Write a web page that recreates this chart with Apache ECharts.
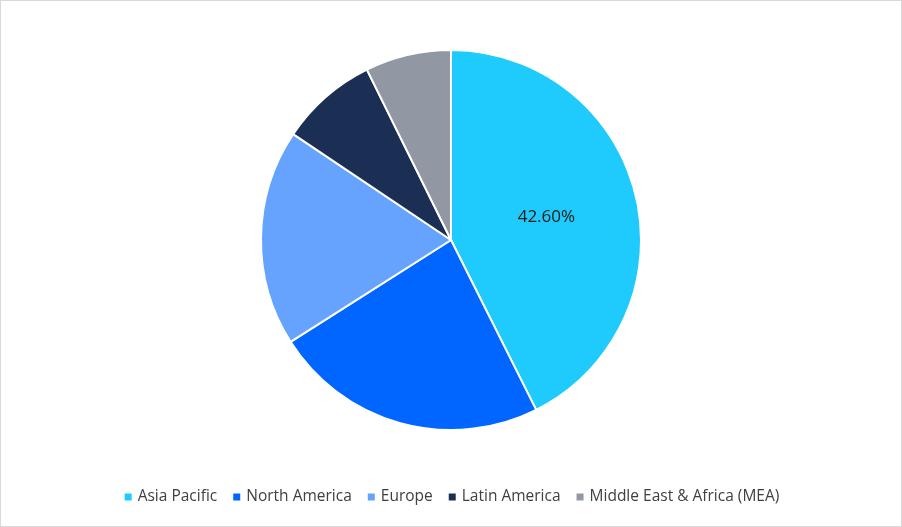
<!DOCTYPE html>
<html>
<head>
<meta charset="utf-8">
<script src="https://cdn.jsdelivr.net/npm/echarts@6/dist/echarts.min.js"></script>
<style>
html,body{margin:0;padding:0;background:#fff;}
#main{width:900px;height:525px;border:1px solid #d9d9d9;}
</style>
</head>
<body>
<div id="main"></div>
<script>
var regions = ['Asia Pacific', 'North America', 'Europe', 'Latin America', 'Middle East & Africa (MEA)'];
var shares = [42.6, 23.4, 18.4, 8.3, 7.3];
var colors = ['#1ECBFC', '#0066FF', '#66A3FF', '#1B2F55', '#9197A3'];

var chart = echarts.init(document.getElementById('main'));
var data = regions.map(function (name, i) {
	var item = { name: name, value: shares[i], itemStyle: { color: colors[i] } };
	if (i === 0) item.label = { show: true };
	return item;
});
chart.setOption({
	animation: false,
	legend: {
		bottom: 16,
		itemWidth: 9,
		itemHeight: 9,
		itemGap: 14,
		icon: 'rect',
		textStyle: { fontFamily: 'Open Sans', fontSize: 15.5, color: '#404040' },
		data: regions
	},
	series: [{
		type: 'pie',
		center: [450, 239],
		radius: [0, 190],
		startAngle: 90,
		clockwise: true,
		itemStyle: { borderColor: '#fff', borderWidth: 2 },
		label: {
			show: false,
			position: 'inner',
			formatter: function (p) { return p.value.toFixed(2) + '%'; },
			fontFamily: 'Open Sans',
			fontSize: 17,
			color: '#1a1a1a'
		},
		labelLine: { show: false },
		emphasis: { disabled: true },
		data: data
	}]
});
</script>
</body>
</html>
